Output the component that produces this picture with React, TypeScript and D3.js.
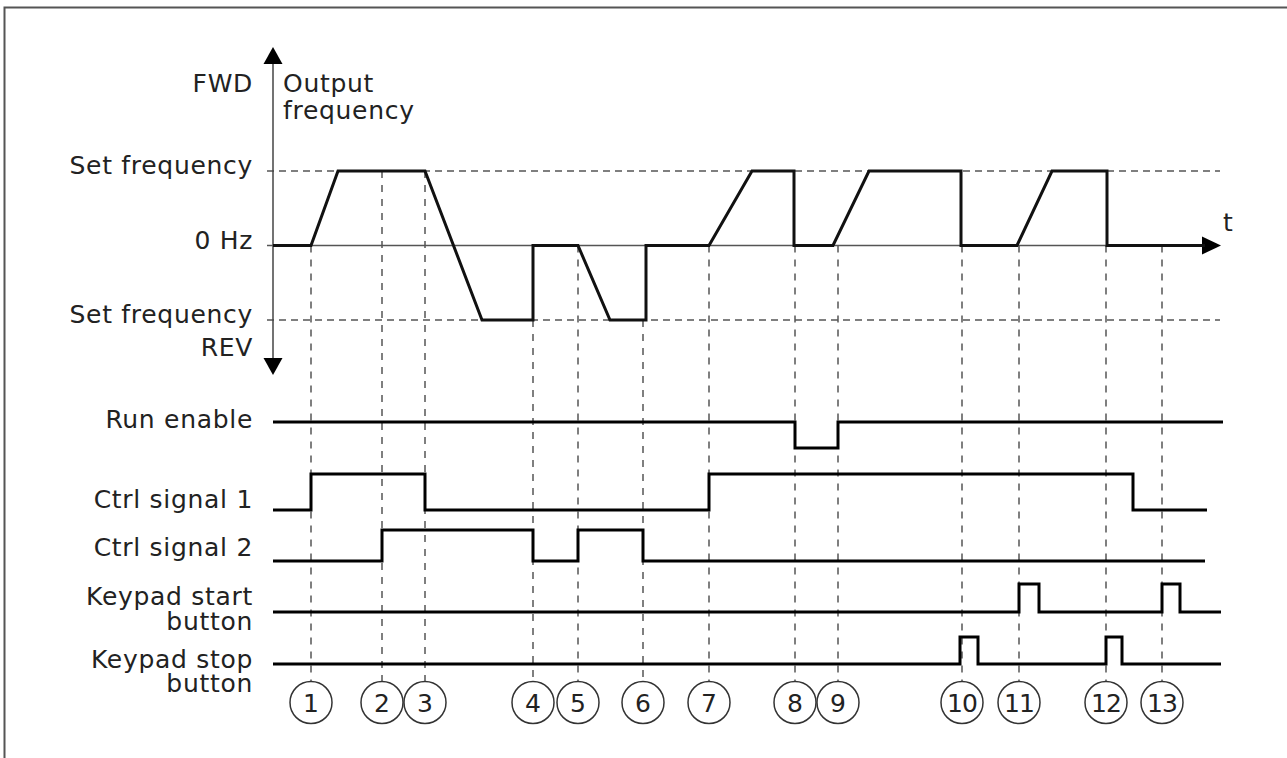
import React from "react";
import * as d3 from "d3";

// ---- data (time units; level values) ----
const eventLabels = ["1","2","3","4","5","6","7","8","9","10","11","12","13"];
const eventTimes = [38,109,152,260,305,370,436,522,565,689,746,833,889];
const eventTopLevels = [0,1,1,-1,0,-1,0,0,0,0,0,0,0];

const freqPoints: [number, number][] = [
  [0,0],[38,0],[65,1],[152,1],[209,-1],[260,-1],[260,0],[305,0],[337,-1],[373,-1],[373,0],
  [436,0],[479,1],[521,1],[521,0],[560,0],[596,1],[688,1],[688,0],[744,0],[779,1],[834,1],[834,0],[932,0]
];

const signalNames = ["Run enable","Ctrl signal 1","Ctrl signal 2","Keypad start|button","Keypad stop|button"];
const runEnable: [number, number][] = [[0,1],[522,1],[522,0],[565,0],[565,1],[950,1]];
const ctrl1: [number, number][] = [[0,0],[38,0],[38,1],[152,1],[152,0],[436,0],[436,1],[860,1],[860,0],[934,0]];
const ctrl2: [number, number][] = [[0,0],[109,0],[109,1],[260,1],[260,0],[305,0],[305,1],[370,1],[370,0],[932,0]];
const keypadStart: [number, number][] = [[0,0],[746,0],[746,1],[766,1],[766,0],[889,0],[889,1],[907,1],[907,0],[948,0]];
const keypadStop: [number, number][] = [[0,0],[687,0],[687,1],[705,1],[705,0],[833,0],[833,1],[849,1],[849,0],[948,0]];
const signals = [runEnable, ctrl1, ctrl2, keypadStart, keypadStop];

const freqLabels = ["Set frequency", "0 Hz", "Set frequency|REV"];
const freqLabelLevels = [1, 0, -1];

export default function App() {
  const W = 1287, H = 758;
  const x = d3.scaleLinear().domain([0, 950]).range([273, 1223]);
  const y = d3.scaleLinear().domain([-1, 1]).range([320, 171]);
  const font = "'DejaVu Sans', Verdana, sans-serif";
  const fs = 25;
  const ls = 0.7;
  const txt = "#222";

  // per-signal vertical geometry [lowY, highY]
  const sigY: [number, number][] = [[448,422],[510,474],[561,530],[612,584],[664,637]];
  const labelBaselines: number[][] = [[428],[508],[556],[605,630],[668,692]];

  const line = d3.line<[number, number]>();
  const freqPath = line(freqPoints.map(([t, v]) => [x(t), y(v)]) as [number, number][]);

  const circleY = 702.5, r = 21;

  return (
    <svg width={W} height={H} style={{ position: "absolute", left: 0, top: 0 }}>
      <rect x={0} y={0} width={W} height={H} fill="#fff" />
      {/* frame */}
      <path d={`M4.5,${H} L4.5,7.5 L${W},7.5`} fill="none" stroke="#555" strokeWidth={2} />

      {/* dashed reference levels */}
      {[1, -1].map((v) => (
        <line key={v} x1={267} x2={1220} y1={y(v)} y2={y(v)} stroke="#555" strokeWidth={1.5} strokeDasharray="7,5" />
      ))}

      {/* event vertical dashed lines */}
      {eventTimes.map((t, i) => (
        <line key={i} x1={x(t)} x2={x(t)} y1={y(eventTopLevels[i])} y2={circleY - r}
          stroke="#555" strokeWidth={1.5} strokeDasharray="7,7" />
      ))}

      {/* axes */}
      <line x1={273} x2={273} y1={60} y2={362} stroke="#444" strokeWidth={1.5} />
      <path d={`M273,47 L282.5,64 L263.5,64 Z`} fill="#000" />
      <path d={`M273,375 L282.5,358 L263.5,358 Z`} fill="#000" />
      <line x1={267} x2={1205} y1={y(0)} y2={y(0)} stroke="#555" strokeWidth={1.5} />
      <path d={`M1221,${y(0)} L1202,${y(0) - 9} L1202,${y(0) + 9} Z`} fill="#000" />
      <text x={1223} y={231} fontFamily={font} fontSize={fs} fill={txt}>t</text>

      {/* output frequency */}
      <path d={freqPath ?? ""} fill="none" stroke="#111" strokeWidth={3} strokeLinejoin="miter" />

      {/* signals */}
      {signals.map((pts, i) => {
        const [lo, hi] = sigY[i];
        const p = line(pts.map(([t, v]) => [x(t), v ? hi : lo]) as [number, number][]);
        return <path key={i} d={p ?? ""} fill="none" stroke="#000" strokeWidth={3} />;
      })}

      {/* labels */}
      <g fontFamily={font} fontSize={fs} fill={txt} letterSpacing={ls}>
        <text x={253} y={92} textAnchor="end">FWD</text>
        <text x={283} y={92}>
          <tspan x={283} y={92}>Output</tspan>
          <tspan x={283} y={119}>frequency</tspan>
        </text>
        {freqLabels.map((l, i) => {
          const parts = l.split("|");
          const base = y(freqLabelLevels[i]) + 3;
          return (
            <text key={i} x={253} y={base} textAnchor="end">
              {parts.map((p, j) => (
                <tspan key={j} x={253} y={base + j * 33}>{p}</tspan>
              ))}
            </text>
          );
        })}
        {signalNames.map((n, i) => (
          <text key={i} x={253} y={labelBaselines[i][0]} textAnchor="end">
            {n.split("|").map((p, j) => (
              <tspan key={j} x={253} y={labelBaselines[i][j]}>{p}</tspan>
            ))}
          </text>
        ))}
      </g>

      {/* event markers */}
      {eventTimes.map((t, i) => (
        <g key={i}>
          <circle cx={x(t)} cy={circleY} r={r} fill="#fff" stroke="#333" strokeWidth={1.5} />
          <text x={x(t)} y={circleY + 9} textAnchor="middle" fontFamily={font} fontSize={fs}
            letterSpacing={eventLabels[i].length > 1 ? -1 : 0} fill={txt}>
            {eventLabels[i]}
          </text>
        </g>
      ))}
    </svg>
  );
}
